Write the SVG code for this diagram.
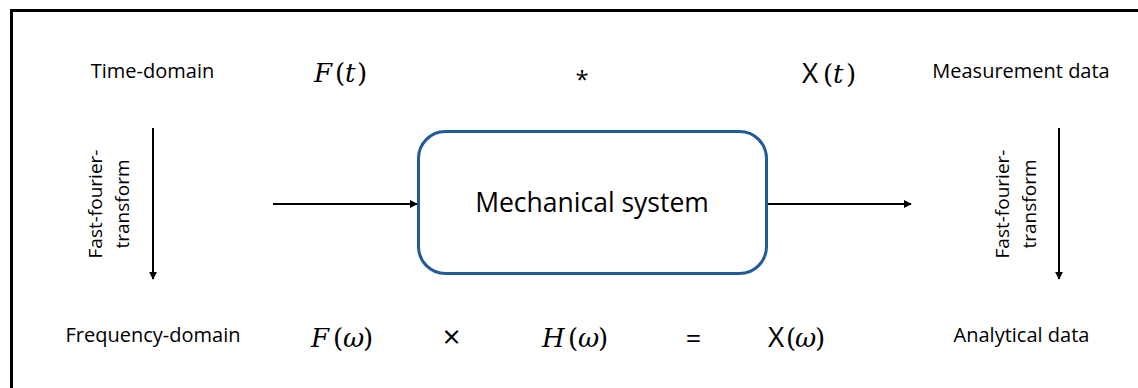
<svg xmlns="http://www.w3.org/2000/svg" width="1138" height="388" viewBox="0 0 1138 388">
<defs>
<marker id="ah" viewBox="0 0 10 10" refX="9" refY="5" markerWidth="4" markerHeight="4" orient="auto" markerUnits="strokeWidth">
<path d="M0,0 L10,5 L0,10 z" fill="#000"/>
</marker>
<style>
.lbl{font-family:"Open Sans","Liberation Sans",sans-serif;font-size:20px;fill:#000}
.math{font-family:"DejaVu Serif","Liberation Serif",serif;font-size:26px;fill:#000}
.op{font-family:"Open Sans","Liberation Sans",sans-serif;fill:#000}
.it{font-style:italic}
.conn{stroke:#000;stroke-width:2;fill:none;marker-end:url(#ah)}
</style>
</defs>
<rect x="11.5" y="10.5" width="1140" height="400" fill="#fff" stroke="#000" stroke-width="3"/>
<g id="connectors">
<line class="conn" x1="273" y1="204" x2="417" y2="204"/>
<line class="conn" x1="768" y1="204" x2="911" y2="204"/>
<line class="conn" x1="153" y1="128" x2="153" y2="279"/>
<line class="conn" x1="1059" y1="128" x2="1059" y2="279"/>
</g>
<g id="mechanical-system">
<rect x="418.5" y="131.5" width="348" height="142" rx="27" fill="#fff" stroke="#1F5C99" stroke-width="3"/>
<text class="lbl" x="592" y="212" text-anchor="middle" style="font-size:26.5px">Mechanical system</text>
</g>
<g id="time-domain"><text class="lbl" x="152.5" y="78" text-anchor="middle">Time-domain</text></g>
<g id="measurement-data"><text class="lbl" x="1021" y="78" text-anchor="middle">Measurement data</text></g>
<g id="frequency-domain"><text class="lbl" x="153" y="342" text-anchor="middle">Frequency-domain</text></g>
<g id="analytical-data"><text class="lbl" x="1021.5" y="342" text-anchor="middle">Analytical data</text></g>
<g id="fft-left"><text class="lbl" transform="translate(102,204) rotate(-90)" text-anchor="middle" style="font-size:19px"><tspan x="0" y="0">Fast-fourier-</tspan><tspan x="0" y="27">transform</tspan></text></g>
<g id="fft-right"><text class="lbl" transform="translate(1009,204) rotate(-90)" text-anchor="middle" style="font-size:19px"><tspan x="0" y="0">Fast-fourier-</tspan><tspan x="0" y="27">transform</tspan></text></g>
<g id="F-t"><text class="math" y="82"><tspan class="it" x="314">F</tspan><tspan x="335">(</tspan><tspan class="it" x="345">t</tspan><tspan x="357">)</tspan></text></g>
<g id="conv"><text class="op" x="582" y="88" text-anchor="middle" style="font-size:24px">*</text></g>
<g id="X-t"><text class="math" y="83"><tspan class="op" x="802" style="font-size:28px">X</tspan><tspan x="823">(</tspan><tspan class="it" x="833">t</tspan><tspan x="846">)</tspan></text></g>
<g id="F-w"><text class="math" y="347"><tspan class="it" x="311">F</tspan><tspan x="333">(</tspan><tspan class="it" x="343">ω</tspan><tspan x="363">)</tspan></text></g>
<g id="times"><text class="op" x="451.5" y="348" text-anchor="middle" style="font-size:31px">×</text></g>
<g id="H-w"><text class="math" y="347"><tspan class="it" x="542">H</tspan><tspan x="568">(</tspan><tspan class="it" x="578">ω</tspan><tspan x="598">)</tspan></text></g>
<g id="equals"><text class="op" x="693.5" y="348" text-anchor="middle" style="font-size:27px">=</text></g>
<g id="X-w"><text class="math" y="347"><tspan class="op" x="768" style="font-size:28px">X</tspan><tspan x="786">(</tspan><tspan class="it" x="795">ω</tspan><tspan x="815">)</tspan></text></g>
</svg>
